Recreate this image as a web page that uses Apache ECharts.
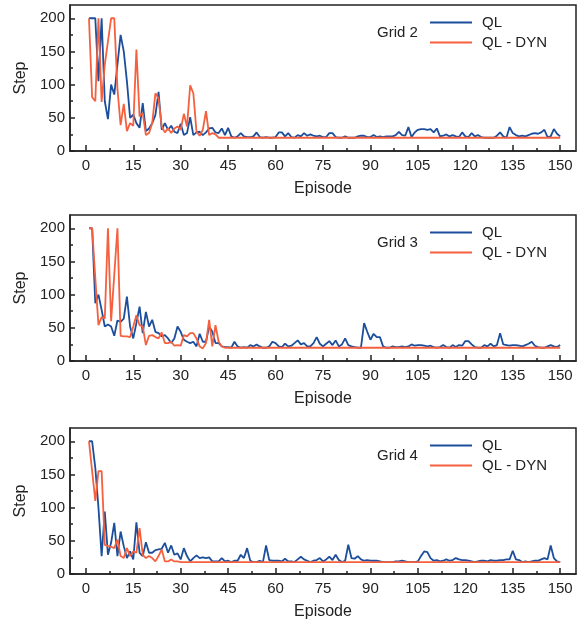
<!DOCTYPE html>
<html>
<head>
<meta charset="utf-8">
<script src="https://cdn.jsdelivr.net/npm/echarts@6/dist/echarts.min.js"></script>
<style>
  html, body { margin: 0; padding: 0; background: #fff; }
  #main { width: 586px; height: 621px; }
</style>
</head>
<body>
<div id="main"></div>
<script>
// axis ticks
const xTicks = [0, 15, 30, 45, 60, 75, 90, 105, 120, 135, 150];
const xMinor = [7.5, 22.5, 37.5, 52.5, 67.5, 82.5, 97.5, 112.5, 127.5, 142.5];
const yTicks = [0, 50, 100, 150, 200];
const yMinor = [25, 75, 125, 175];

const seriesNames = ['QL', 'QL - DYN'];
const panelNames = ['Grid 2', 'Grid 3', 'Grid 4'];

// steps per episode (episode 1..150)
const grid2QL = [
  200, 200, 200, 105, 200, 75, 48, 100, 85, 130,
  175, 150, 105, 50, 55, 42, 35, 72, 30, 34,
  42, 54, 89, 32, 42, 32, 38, 29, 27, 41,
  24, 27, 51, 24, 28, 29, 24, 28, 34, 35,
  28, 27, 34, 24, 35,
  22, 20, 22, 27, 22, 21, 21, 22, 28, 21,
  20, 21, 20, 20, 21, 28, 28, 22, 27, 21,
  20, 24, 22, 27, 23, 25, 23, 22, 23, 21,
  21, 27, 27, 21, 20, 20, 22, 20, 20, 20,
  22, 23, 23, 21, 21, 24, 21, 22, 21, 22,
  22, 22, 24, 29, 24, 23, 36, 21, 28, 32,
  33, 33, 32, 33, 28, 34, 22, 23, 25, 22,
  24, 22, 21, 28, 22, 21, 27, 22, 24, 21,
  20, 20, 20, 20, 23, 28, 22, 20, 36, 27,
  24, 22, 23, 22, 24, 26, 27, 26, 28, 32,
  21, 22, 33, 26, 22
];
const grid2DYN = [
  200, 81, 75, 200, 74, 130, 165, 200, 200, 94,
  39, 71, 30, 42, 38, 153, 52, 57, 24, 27,
  42, 87, 79, 37, 28, 34, 27, 34, 37, 32,
  56, 37, 99, 87, 29, 23, 32, 60, 24, 27,
  25, 20,
  20, 20, 20, 20, 20, 20, 20, 20, 20, 20,
  20, 20, 20, 20, 20, 20, 20, 20, 20, 20,
  20, 20, 20, 20, 20, 20, 20, 20, 20, 20,
  20, 20, 20, 20, 20, 20, 20, 20, 20, 20,
  20, 20, 20, 20, 20, 20, 20, 20, 20, 20,
  20, 20, 20, 20, 20, 20, 20, 20, 20, 20,
  20, 20, 20, 20, 20, 20, 20, 20, 20, 20,
  20, 20, 20, 20, 20, 20, 20, 20, 20, 20,
  20, 20, 20, 20, 20, 20, 20, 20, 20, 20,
  20, 20, 20, 20, 20, 20, 20, 20, 20, 20,
  20, 20, 20, 20, 20, 20, 20, 20
];

const grid3QL = [
  200, 200, 87, 100, 77, 52, 55, 52, 38, 61,
  59, 64, 97, 52, 34, 57, 82, 42, 74, 52,
  62, 44, 42, 37, 39, 34, 27, 34, 52, 44,
  32, 29, 27, 29, 22, 41, 29, 29, 52, 44,
  27, 27, 22, 21, 21,
  20, 29, 22, 20, 21, 20, 24, 22, 25, 22,
  20, 20, 22, 29, 27, 22, 21, 26, 22, 23,
  27, 31, 25, 27, 22, 22, 27, 36, 26, 22,
  26, 30, 24, 31, 22, 25, 34, 24, 22, 21,
  20, 20, 57, 44, 32, 41, 36, 36, 22, 20,
  20, 22, 21, 21, 22, 21, 22, 25, 23, 24,
  24, 23, 22, 23, 21, 20, 21, 24, 21, 20,
  24, 21, 24, 23, 30, 30, 25, 21, 20, 20,
  24, 22, 26, 22, 24, 42, 25, 24, 23, 24,
  24, 23, 22, 24, 26, 29, 23, 21, 20, 20,
  22, 24, 22, 21, 24
];
const grid3DYN = [
  200, 200, 125, 54, 66, 64, 200, 60, 130, 200,
  38, 37, 37, 36, 52, 69, 54, 52, 24, 38,
  39, 36, 34, 43, 27, 27, 29, 23, 24, 23,
  39, 37, 42, 42, 34, 22, 19, 27, 62, 22,
  54, 29, 22, 20,
  20, 20, 20, 20, 20, 20, 20, 20, 20, 20,
  20, 20, 20, 20, 20, 20, 20, 20, 20, 20,
  20, 20, 20, 20, 20, 20, 20, 20, 20, 20,
  20, 20, 20, 20, 20, 20, 20, 20, 20, 20,
  20, 20, 20, 20, 20, 20, 20, 20, 20, 20,
  20, 20, 20, 20, 20, 20, 20, 20, 20, 20,
  20, 20, 20, 20, 20, 20, 20, 20, 20, 20,
  20, 20, 20, 20, 20, 20, 20, 20, 20, 20,
  20, 20, 20, 20, 20, 20, 20, 20, 20, 20,
  20, 20, 20, 20, 20, 20, 20, 20, 20, 20,
  20, 20, 20, 20, 20, 20
];

const grid4QL = [
  200, 200, 160, 100, 27, 94, 29, 47, 77, 27,
  64, 42, 24, 34, 22, 78, 32, 27, 48, 32,
  32, 36, 37, 38, 47, 32, 43, 29, 31, 22,
  39, 27, 19, 24, 28, 24, 25, 24, 25, 19,
  19, 19, 24, 19,
  20, 18, 20, 20, 29, 24, 39, 20, 18, 18,
  20, 18, 43, 21, 20, 20, 20, 19, 23, 19,
  19, 18, 22, 26, 22, 20, 18, 20, 21, 24,
  19, 22, 26, 21, 29, 21, 18, 20, 44, 24,
  23, 27, 22, 20, 21, 20, 20, 20, 19, 18,
  18, 18, 18, 19, 19, 20, 19, 18, 18, 18,
  19, 27, 34, 33, 24, 20, 21, 19, 20, 22,
  20, 21, 24, 22, 21, 21, 20, 19, 18, 19,
  20, 20, 19, 21, 20, 20, 21, 21, 22, 22,
  35, 22, 21, 18, 19, 18, 19, 20, 20, 22,
  24, 22, 43, 24, 19, 18
];
const grid4DYN = [
  200, 155, 110, 155, 155, 44, 42, 41, 39, 52,
  27, 24, 39, 27, 34, 32, 69, 29, 24, 27,
  24, 19, 27, 37, 19, 19, 22, 19, 19,
  18, 18, 18, 18, 18, 18, 18, 18, 18, 18,
  18, 18, 18, 18, 18, 18, 18, 18, 18, 18,
  18, 18, 18, 18, 18, 18, 18, 18, 18, 18,
  18, 18, 18, 18, 18, 18, 18, 18, 18, 18,
  18, 18, 18, 18, 18, 18, 18, 18, 18, 18,
  18, 18, 18, 18, 18, 18, 18, 18, 18, 18,
  18, 18, 18, 18, 18, 18, 18, 18, 18, 18,
  18, 18, 18, 18, 18, 18, 18, 18, 18, 18,
  18, 18, 18, 18, 18, 18, 18, 18, 18, 18,
  18, 18, 18, 18, 18, 18, 18, 18, 18, 18,
  18, 18, 18, 18, 18, 18, 18, 18, 18, 18,
  18, 18, 18, 18, 18, 18, 18, 18, 18, 18,
  18
];

const qlData = [grid2QL, grid3QL, grid4QL];
const dynData = [grid2DYN, grid3DYN, grid4DYN];
const panelTops = [5, 215, 428];

const BLUE = '#1c4e9b';
const RED = '#f5603e';
const INK = '#222';
const FONT = 'Liberation Sans';

function pairs(arr) {
  return arr.map((v, i) => [i + 1, v]);
}

let grids = [], xAxes = [], yAxes = [], series = [], legends = [], titles = [];

panelTops.forEach((top, i) => {
  grids.push({
    left: 70, top: top, width: 506, height: 146,
    show: true, borderColor: INK, borderWidth: 1.5
  });
  xAxes.push({
    gridIndex: i, type: 'value', min: -5, max: 155,
    name: 'Episode', nameLocation: 'middle', nameGap: 30,
    nameTextStyle: { fontSize: 16, color: INK, fontFamily: FONT },
    axisLine: { show: true, onZero: false, lineStyle: { color: INK, width: 1.5 } },
    axisTick: { show: true, inside: true, length: 6, customValues: xTicks, lineStyle: { color: INK, width: 1.5 } },
    axisLabel: { customValues: xTicks, margin: 7, fontSize: 15, color: INK, fontFamily: FONT },
    splitLine: { show: false }
  });
  yAxes.push({
    gridIndex: i, type: 'value', min: 0, max: 220,
    name: 'Step', nameLocation: 'middle', nameGap: 38,
    nameTextStyle: { fontSize: 16, color: INK, fontFamily: FONT },
    axisLine: { show: true, onZero: false, lineStyle: { color: INK, width: 1.5 } },
    axisTick: { show: true, inside: true, length: 5, customValues: yTicks, lineStyle: { color: INK, width: 1.5 } },
    axisLabel: { customValues: yTicks, margin: 5, fontSize: 15, color: INK, fontFamily: FONT },
    splitLine: { show: false }
  });
  series.push({
    name: seriesNames[0], type: 'line', xAxisIndex: i, yAxisIndex: i,
    data: pairs(qlData[i]), symbol: 'none', color: BLUE,
    lineStyle: { color: BLUE, width: 1.8 }
  });
  series.push({
    name: seriesNames[1], type: 'line', xAxisIndex: i, yAxisIndex: i,
    data: pairs(dynData[i]), symbol: 'none', color: RED,
    lineStyle: { color: RED, width: 1.8 }
  });
  legends.push({
    data: seriesNames, orient: 'vertical', left: 430, top: top + 10,
    padding: 0, icon: 'rect', itemWidth: 42, itemHeight: 2, itemGap: 5,
    selectedMode: false,
    textStyle: { fontSize: 15, color: INK, fontFamily: FONT, padding: [0, 0, 0, 5] }
  });
  titles.push({
    text: panelNames[i], left: 377, top: top + 20, padding: 0,
    textStyle: { fontSize: 15, fontWeight: 'normal', color: INK, fontFamily: FONT }
  });
});

// overlay grids carrying the minor ticks
panelTops.forEach((top, i) => {
  grids.push({ left: 70, top: top, width: 506, height: 146, show: false });
  xAxes.push({
    gridIndex: 3 + i, type: 'value', min: -5, max: 155,
    axisLine: { show: false, onZero: false },
    axisTick: { show: true, inside: true, length: 3, customValues: xMinor, lineStyle: { color: INK, width: 1.5 } },
    axisLabel: { show: false }, splitLine: { show: false }
  });
  yAxes.push({
    gridIndex: 3 + i, type: 'value', min: 0, max: 220,
    axisLine: { show: false, onZero: false },
    axisTick: { show: true, inside: true, length: 3, customValues: yMinor, lineStyle: { color: INK, width: 1.5 } },
    axisLabel: { show: false }, splitLine: { show: false }
  });
});

const chart = echarts.init(document.getElementById('main'));
chart.setOption({
  animation: false,
  backgroundColor: '#fff',
  textStyle: { fontFamily: FONT },
  title: titles,
  legend: legends,
  grid: grids,
  xAxis: xAxes,
  yAxis: yAxes,
  series: series
});
</script>
</body>
</html>
